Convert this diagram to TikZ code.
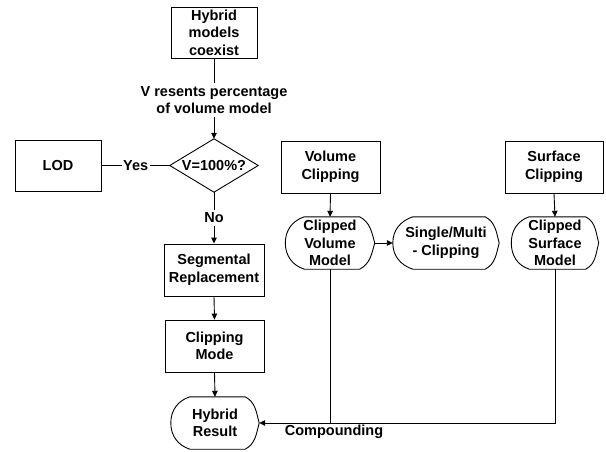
\documentclass[tikz,border=0pt]{standalone}
\usepackage{fontspec}
\setmainfont{Liberation Sans}
\usetikzlibrary{arrows.meta,calc}

% outline of a flowchart "display" shape around a (borderless) node:
% #1 node name, #2 width of the rounded left part, #3 width of the pointed right part
\newcommand{\displayoutline}[3]{%
  \draw[edge] ($(#1.north west)+(#2,0)$) -- ($(#1.north east)+(-#3,0)$)
    to[out=-28,in=105] (#1.east) to[out=-105,in=28] ($(#1.south east)+(-#3,0)$)
    -- ($(#1.south west)+(#2,0)$)
    to[out=162,in=-90] (#1.west) to[out=90,in=198] cycle;}

\begin{document}
\begin{tikzpicture}[x=1pt,y=-1pt,
  every node/.style={font=\bfseries\fontsize{14.5}{17.5}\selectfont,align=center,inner sep=0pt},
  edge/.style={line width=0.9pt,black},
  arrow/.style={edge,-{Triangle[length=6pt,width=5.5pt]}},
  procbox/.style={draw,line width=0.9pt,minimum width=#1,minimum height=52pt},
  dispnode/.style={minimum width=#1,minimum height=52pt},
  decnode/.style={minimum width=88pt,minimum height=53pt},
  lbl/.style={fill=white,inner xsep=1.5pt,inner ysep=3pt}]

\fill[white] (0,0) rectangle (606,452);
\useasboundingbox (0,0) rectangle (606,452);

% left column
\node[procbox=86pt,minimum height=51pt] (hyb) at (214,32.5) {Hybrid\\models\\coexist};
\node[decnode] (dec) at (214,165.5) {V=100\%?};
\draw[edge] (dec.north) -- (dec.east) -- (dec.south) -- (dec.west) -- cycle;
\node[procbox=86pt,minimum height=51pt] (lod) at (58,165.5) {LOD};
\node[procbox=100pt] (seg) at (214,270) {Segmental\\Replacement};
\node[procbox=99pt] (cmode) at (214.5,346) {Clipping\\Mode};
\node[dispnode=88pt] (hres) at (215,423) {Hybrid\\Result};
\displayoutline{hres}{19}{14}

% volume branch
\node[procbox=99pt] (vclip) at (330.5,167) {Volume\\Clipping};
\node[dispnode=89pt] (cvm) at (330,243) {Clipped\\Volume\\Model};
\displayoutline{cvm}{19}{15}
\node[dispnode=106pt] (smc) at (446,243) {Single/Multi\\- Clipping};
\displayoutline{smc}{20}{14}

% surface branch
\node[procbox=98pt] (sclip) at (554,167) {Surface\\Clipping};
\node[dispnode=87pt] (csm) at (555,243) {Clipped\\Surface\\Model};
\displayoutline{csm}{18}{13}

% connectors
\draw[arrow] (hyb.south) -- node[lbl,pos=0.52] {V resents percentage\\of volume model} (dec.north);
\draw[edge] (dec.west) -- node[lbl] {Yes} (lod.east);
\draw[arrow] (dec.south) -- node[lbl] {No} (seg.north);
\draw[arrow] (seg.south) -- (cmode.north);
\draw[arrow] (cmode.south) -- (hres.north);
\draw[arrow] (vclip.south) -- (cvm.north);
\draw[arrow] (cvm.east) -- (smc.west);
\draw[arrow] (sclip.south) -- (csm.north);
\coordinate (join) at (cvm.south |- hres.east);
\draw[arrow] (csm.south) |- (hres.east);
\draw[edge] (cvm.south) -- (join);
\node[anchor=north,xshift=4pt,yshift=-1.5pt] (comp) at (join) {Compounding};

\end{tikzpicture}
\end{document}
